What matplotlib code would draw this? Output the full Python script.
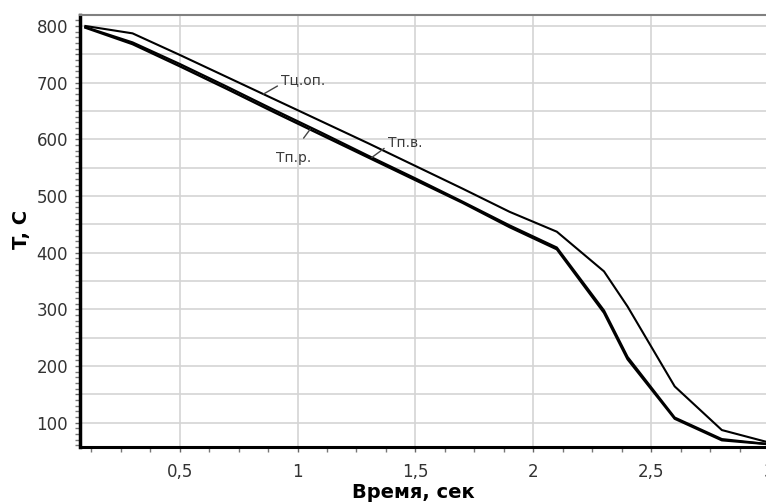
import matplotlib
matplotlib.use("Agg")
import matplotlib.pyplot as plt
from matplotlib.ticker import MultipleLocator, FuncFormatter
import numpy as np

# time, s
t = [0.1, 0.3, 0.5, 0.7, 0.9, 1.1, 1.3, 1.5, 1.7, 1.9, 2.1, 2.3, 2.4, 2.6, 2.8, 3.0]
# temperatures, C
t_cop = [800, 787, 749, 710, 671, 632, 593, 553, 513, 472, 437, 367, 305, 164, 87, 65]
t_pv = [798, 771, 733, 693, 652, 612, 571, 531, 490, 448, 409, 298, 216, 109, 71, 62]
t_pr = [797, 768, 729, 689, 648, 608, 568, 528, 488, 445, 406, 294, 212, 107, 69, 62]

fig = plt.figure(figsize=(7.66, 5.03), dpi=100)
ax = fig.add_axes([0.1044, 0.1119, 0.8995, 0.8583])

ax.plot(t, t_cop, color='black', lw=1.5, zorder=3)
ax.plot(t, t_pv, color='black', lw=1.6, zorder=3)
ax.plot(t, t_pr, color='black', lw=1.7, zorder=3)

ax.set_xlim(0.077, 3.0)
ax.set_ylim(57.6, 819.4)

ax.xaxis.set_major_locator(MultipleLocator(0.5))
ax.xaxis.set_minor_locator(MultipleLocator(0.125))
ax.yaxis.set_major_locator(MultipleLocator(50))
ax.yaxis.set_minor_locator(MultipleLocator(10))


def xfmt(v, pos):
    s = ('%g' % v).replace('.', ',')
    return s


def yfmt(v, pos):
    return '%d' % v if abs(v % 100) < 1e-6 else ''


ax.xaxis.set_major_formatter(FuncFormatter(xfmt))
ax.yaxis.set_major_formatter(FuncFormatter(yfmt))

ax.grid(True, which='major', color='#d4d4d4', lw=1.2, zorder=0)
ax.tick_params(axis='both', which='major', labelsize=12, labelcolor='#333333',
               color='#666666', length=3.6, width=1)
ax.tick_params(axis='both', which='minor', color='#777777', length=3.6, width=1)
ax.tick_params(axis='x', which='major', pad=8)
ax.tick_params(axis='y', which='major', pad=5)

ax.spines['left'].set_linewidth(2.5)
ax.spines['left'].set_color('black')
ax.spines['bottom'].set_linewidth(2.2)
ax.spines['bottom'].set_color('black')
ax.spines['top'].set_linewidth(1.5)
ax.spines['top'].set_color('#808080')
ax.spines['right'].set_visible(False)

lbl = dict(fontsize=10, color='#3a3a3a')
lead = dict(arrowstyle='-', lw=1, color='#444444', shrinkB=0)

x1 = 0.855
ax.annotate('Тц.оп.', xy=(x1, np.interp(x1, t, t_cop)), xytext=(13, 10),
            textcoords='offset points', ha='left', va='center',
            arrowprops=dict(relpos=(0, 0.25), shrinkA=1, **lead), **lbl)

x2 = 1.053
ax.annotate('Тп.р.', xy=(x2, np.interp(x2, t, t_pr)), xytext=(-11.5, -20.5),
            textcoords='offset points', ha='center', va='center',
            arrowprops=dict(relpos=(0.5, 1), shrinkA=9, **lead), **lbl)

x3 = 1.315
ax.annotate('Тп.в.', xy=(x3, np.interp(x3, t, t_pv)), xytext=(11.7, 10.6),
            textcoords='offset points', ha='left', va='center',
            arrowprops=dict(relpos=(0, 0.3), shrinkA=1, **lead), **lbl)

fig.text(0.0287, 0.543, 'T, C', rotation=90, ha='center', va='center',
         fontsize=14, fontweight='bold', color='black')
fig.text(0.540, 0.010, 'Время, сек', ha='center', va='baseline',
         fontsize=14, fontweight='bold', color='black')

fig.savefig('out.png', dpi=100)
